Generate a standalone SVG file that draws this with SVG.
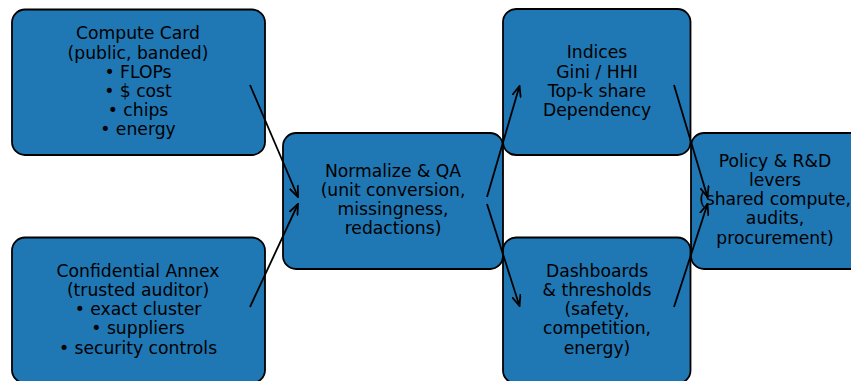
<svg xmlns="http://www.w3.org/2000/svg" width="851" height="381" viewBox="0 0 851 381">
<style>
.box{fill:#1f77b4;stroke:#000;stroke-width:1.8}
.t{font-family:"DejaVu Sans",sans-serif;font-size:17.2px;fill:#000;text-anchor:middle}
.c{stroke:#000;stroke-width:1.8;fill:none;marker-end:url(#ah)}
</style>
<defs>
<marker id="ah" viewBox="0 0 12 10" refX="11" refY="5" markerWidth="12" markerHeight="10" markerUnits="userSpaceOnUse" orient="auto">
<path d="M0,0.5 L11,5 L0,9.5" fill="none" stroke="#000" stroke-width="1.8"/>
</marker>
</defs>
<rect width="851" height="381" fill="#fff"/>
<g id="compute-card">
<rect class="box" x="12" y="9.5" width="253" height="145.5" rx="13"/>
<text class="t" x="138" y="39.3"><tspan x="138">Compute Card</tspan><tspan x="138" dy="19.2">(public, banded)</tspan><tspan x="138" dy="19.2">• FLOPs</tspan><tspan x="138" dy="19.2">• $ cost</tspan><tspan x="138" dy="19.2">• chips</tspan><tspan x="138" dy="19.2">• energy</tspan></text>
</g>
<g id="confidential-annex">
<rect class="box" x="12" y="237.5" width="253" height="145.5" rx="13"/>
<text class="t" x="138" y="276.7"><tspan x="138">Confidential Annex</tspan><tspan x="138" dy="19.2">(trusted auditor)</tspan><tspan x="138" dy="19.2">• exact cluster</tspan><tspan x="138" dy="19.2">• suppliers</tspan><tspan x="138" dy="19.2">• security controls</tspan></text>
</g>
<g id="normalize">
<rect class="box" x="283" y="133" width="220" height="136" rx="13"/>
<text class="t" x="393" y="176.7"><tspan x="393">Normalize &amp; QA</tspan><tspan x="393" dy="19.2">(unit conversion,</tspan><tspan x="393" dy="19.2">missingness,</tspan><tspan x="393" dy="19.2">redactions)</tspan></text>
</g>
<g id="indices">
<rect class="box" x="503" y="9" width="187.5" height="146" rx="13"/>
<text class="t" x="597" y="58.3"><tspan x="597">Indices</tspan><tspan x="597" dy="19.2">Gini / HHI</tspan><tspan x="597" dy="19.2">Top-k share</tspan><tspan x="597" dy="19.2">Dependency</tspan></text>
</g>
<g id="dashboards">
<rect class="box" x="503" y="237.5" width="187.5" height="146" rx="13"/>
<text class="t" x="597" y="276.7"><tspan x="597">Dashboards</tspan><tspan x="597" dy="19.2">&amp; thresholds</tspan><tspan x="597" dy="19.2">(safety,</tspan><tspan x="597" dy="19.2">competition,</tspan><tspan x="597" dy="19.2">energy)</tspan></text>
</g>
<g id="policy">
<rect class="box" x="691" y="133" width="175" height="136" rx="13"/>
<text class="t" x="775" y="166.7"><tspan x="775">Policy &amp; R&amp;D</tspan><tspan x="775" dy="19.2">levers</tspan><tspan x="775" dy="19.2">(shared compute,</tspan><tspan x="775" dy="19.2">audits,</tspan><tspan x="775" dy="19.2">procurement)</tspan></text>
</g>
<g id="connectors">
<line class="c" x1="250" y1="85" x2="298" y2="197"/>
<line class="c" x1="250" y1="307" x2="298" y2="204"/>
<line class="c" x1="487" y1="197" x2="519.5" y2="86"/>
<line class="c" x1="487" y1="204" x2="519.5" y2="306"/>
<line class="c" x1="674" y1="85" x2="707.5" y2="197"/>
<line class="c" x1="674" y1="307" x2="707.5" y2="204"/>
</g>
</svg>
